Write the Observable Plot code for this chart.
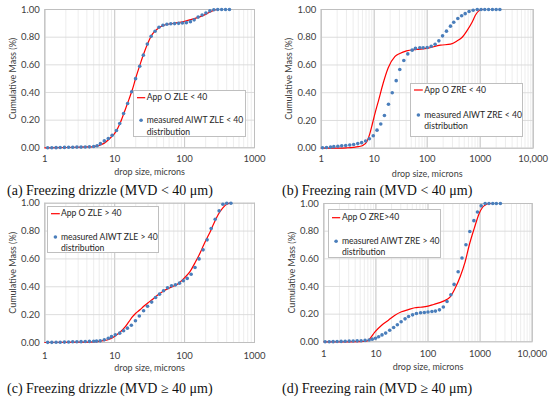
<!DOCTYPE html>
<html><head><meta charset="utf-8">
<script src="https://cdn.jsdelivr.net/npm/d3@7"></script>
<script src="https://cdn.jsdelivr.net/npm/@observablehq/plot@0.6"></script>
<style>
body{margin:0;background:#fff;}
#wrap{position:relative;width:550px;height:397px;overflow:hidden;background:#fff;}
.panel{position:absolute;}
.panel svg{display:block;}
.cap{position:absolute;white-space:nowrap;font-family:"Liberation Serif",serif;font-size:14px;color:#111;line-height:16px;}
.leg{position:absolute;background:#fff;border:1px solid #bfbfbf;box-sizing:border-box;font-family:Lato,sans-serif;font-size:8.6px;color:#262626;}
.leg .t{position:absolute;white-space:nowrap;line-height:12px;}
.leg svg{position:absolute;left:0;top:0;overflow:visible;}
</style></head>
<body><div id="wrap"></div>
<script>
// ---------- data ----------
const yTicks = [0, 0.2, 0.4, 0.6, 0.8, 1.0];
const xTicks1000 = [1, 10, 100, 1000];
const xLabels1000 = ["1", "10", "100", "1000"];
const xTicks10000 = [1, 10, 100, 1000, 10000];
const xLabels10000 = ["1", "10", "100", "1000", "10,000"];

// (a) Freezing drizzle MVD < 40
const measA_size = [1.1,1.26,1.45,1.66,1.91,2.19,2.51,2.88,3.3,3.79,4.35,5.0,5.6,6.25,7.1,8.1,9.2,10.6,11.8,13.4,15.3,17.5,19.9,22.8,25.7,29.3,33.2,37.8,43,49,55.8,63.5,72,82,93,106,121,137,156,178,202,230,262,298,339,385,438];
const measA_mass = [0,0,0.001,0.002,0.003,0.004,0.004,0.005,0.005,0.006,0.007,0.009,0.015,0.03,0.05,0.067,0.09,0.125,0.176,0.248,0.32,0.405,0.5,0.59,0.67,0.75,0.807,0.843,0.872,0.886,0.893,0.897,0.898,0.9,0.902,0.905,0.912,0.925,0.945,0.96,0.975,0.99,0.998,1,1,1,1];
const lineA_size = [1,2,3,4,5,6,7,8,9,10,12,14,16,18,20,23,26,30,35,40,45,50,60,80,100,130,160,200,250,290];
const lineA_mass = [0,0.002,0.004,0.006,0.009,0.017,0.032,0.055,0.08,0.105,0.18,0.27,0.35,0.425,0.505,0.6,0.68,0.76,0.825,0.855,0.875,0.885,0.895,0.905,0.915,0.93,0.945,0.965,0.99,1];

// (b) Freezing rain MVD < 40
const measB_size = [1.06,1.26,1.5,1.73,2.06,2.44,2.9,3.46,4.1,4.9,5.8,6.9,8.1,9.6,11.3,13.3,15.6,18.6,21.9,26,30.4,36.2,43,52,60,72.5,84,100,119,141,166,195,231,275,317,378,447,521,617,737,880,1040,1220,1440,1700,2000,2350];
const measB_mass = [0.003,0.005,0.008,0.011,0.014,0.017,0.02,0.023,0.027,0.033,0.04,0.052,0.068,0.09,0.13,0.175,0.236,0.317,0.40,0.487,0.567,0.632,0.68,0.707,0.72,0.724,0.724,0.726,0.735,0.75,0.774,0.81,0.844,0.88,0.908,0.935,0.955,0.97,0.986,0.995,1,1,1,1,1,1,1];
const lineB_size = [1,2,3,4,5,6.2,7.2,8.2,9.3,10.5,12,14.8,18.4,24.5,30.4,40.7,63,100,178,275,368,457,569,707,816,940,1090,1170];
const lineB_mass = [0,0.001,0.003,0.006,0.011,0.022,0.045,0.1,0.18,0.26,0.34,0.47,0.58,0.66,0.683,0.702,0.712,0.72,0.743,0.75,0.774,0.80,0.85,0.91,0.96,0.99,1,1];

// (c) Freezing drizzle MVD >= 40
const measC_size = [1.1,1.26,1.45,1.66,1.91,2.19,2.51,2.88,3.3,3.79,4.35,5.0,5.5,6.2,7.1,8.1,9.0,10.2,11.8,13.4,15.2,17.3,19.8,22.5,25.9,29.5,33.8,38.5,43.8,50,57,65,74,84.5,96,109,124,141,161,184,210,240,274,312,353,401,460];
const measC_mass = [0.001,0.001,0.002,0.002,0.003,0.004,0.005,0.005,0.006,0.007,0.008,0.009,0.01,0.012,0.02,0.03,0.042,0.055,0.067,0.084,0.103,0.124,0.156,0.19,0.228,0.26,0.29,0.323,0.347,0.371,0.393,0.407,0.414,0.426,0.443,0.46,0.49,0.538,0.6,0.665,0.737,0.818,0.885,0.945,0.993,1,1];
const lineC_size = [1,3,5,6,7,8,9,10,12,14,16,18,20,23,26,30,35,40,50,60,70,80,100,120,140,160,180,200,230,260,300,350,400,450];
const lineC_mass = [0,0.002,0.005,0.008,0.013,0.02,0.03,0.045,0.075,0.11,0.15,0.185,0.21,0.235,0.26,0.285,0.31,0.335,0.37,0.39,0.405,0.42,0.465,0.51,0.57,0.625,0.68,0.73,0.79,0.85,0.915,0.965,0.993,1];

// (d) Freezing rain MVD >= 40
const measD_size = [1.06,1.27,1.51,1.8,2.15,2.57,3.07,3.66,4.37,5.2,6.2,7.4,8.5,9.8,11.3,13.1,15.4,18.4,21.9,25.8,30.5,36.3,42.4,50.6,60,72,85,100,119,139,166,197,232,275,317,379,449,535,635,760,890,1050,1250,1480,1750,2050,2450];
const measD_mass = [0,0,0.001,0.002,0.003,0.004,0.005,0.006,0.007,0.008,0.01,0.013,0.019,0.026,0.036,0.05,0.063,0.084,0.103,0.123,0.145,0.166,0.183,0.195,0.205,0.21,0.212,0.215,0.219,0.222,0.231,0.252,0.291,0.34,0.415,0.507,0.606,0.702,0.797,0.876,0.938,0.983,1,1,1,1,1];
const lineD_size = [1,3,5,6.5,7.2,9.6,12.9,17.4,23.2,31,42,56,71,100,128,198,267,330,414,516,620,772,960,1190,1560,1650];
const lineD_mass = [0,0,0.001,0.004,0.012,0.072,0.12,0.156,0.192,0.217,0.233,0.246,0.25,0.258,0.27,0.294,0.325,0.385,0.47,0.578,0.70,0.82,0.928,0.983,1,1];

const captions = ["(a) Freezing drizzle (MVD < 40 μm)", "(b) Freezing rain (MVD < 40 μm)", "(c) Freezing drizzle (MVD ≥ 40 μm)", "(d) Freezing rain (MVD ≥ 40 μm)"];
const legendLine = ["App O ZLE < 40", "App O ZRE < 40", "App O ZLE > 40", "App O ZRE>40"];
const legendDots = ["measured AIWT ZLE < 40", "measured AIWT ZRE < 40", "measured AIWT ZLE > 40", "measured AIWT ZRE > 40"];

// ---------- drawing ----------
const RED = "#ff0000", BLUE = "#4a7ebb", TXT = "#404040";
const wrap = document.getElementById("wrap");
const esc = (s) => s.replace(/</g, "&lt;").replace(/>/g, "&gt;");

const panels = [
  {left:0, top:0, ms:measA_size, mm:measA_mass, ls:lineA_size, lm:lineA_mass, xt:xTicks1000, xl:xLabels1000,
   mL:44.3, mR:21, mT:9, mB:32.7, H:180, tp:7.5, lab:24.7, capTop:183,
   leg:{l:133, t:90, w:113, h:47, r1:6.7, r2:29.3, r3:41.7, tx:12.7}},
  {left:275, top:0, ms:measB_size, mm:measB_mass, ls:lineB_size, lm:lineB_mass, xt:xTicks10000, xl:xLabels10000,
   mL:45.7, mR:17.3, mT:9, mB:32.3, H:180, tp:7, lab:25.6, capTop:183,
   leg:{l:135, t:83.3, w:113, h:53.4, r1:6, r2:31, r3:42.7, tx:13.3}},
  {left:0, top:197, ms:measC_size, mm:measC_mass, ls:lineC_size, lm:lineC_mass, xt:xTicks1000, xl:xLabels1000,
   mL:44.3, mR:21, mT:5.7, mB:35, H:180, tp:9.5, lab:25.7, capTop:183.7,
   leg:{l:46.7, t:9, w:112.6, h:46.7, r1:6.7, r2:30, r3:41.7, tx:13.3}},
  {left:275, top:197, ms:measD_size, mm:measD_mass, ls:lineD_size, lm:lineD_mass, xt:xTicks10000, xl:xLabels10000,
   mL:48.3, mR:18.3, mT:6, mB:35.7, H:180, tp:8.5, lab:25, capTop:183.7,
   leg:{l:53.3, t:12.3, w:112.4, h:48.7, r1:7.7, r2:31.3, r3:42, tx:12.7}}
];

panels.forEach((p, i) => {
  const xmax = p.xt[p.xt.length - 1];
  const minor = d3.scaleLog().domain([1, xmax]).ticks();
  const lineData = p.ls.map((s, k) => ({s, m: p.lm[k]}));
  const dotData = p.ms.map((s, k) => ({s, m: p.mm[k]}));
  const chart = Plot.plot({
    width: 275, height: p.H,
    marginLeft: p.mL, marginRight: p.mR, marginTop: p.mT, marginBottom: p.mB,
    style: {fontFamily: "Lato, sans-serif", fontSize: "9.5px", color: TXT, background: "transparent", overflow: "visible"},
    x: {type: "log", domain: [1, xmax]},
    y: {domain: [0, 1]},
    marks: [
      Plot.ruleX(minor, {stroke: "#e8e8e8", strokeWidth: 0.8}),
      Plot.ruleX(p.xt, {stroke: "#c4c4c4", strokeWidth: 0.9}),
      Plot.ruleY(yTicks, {stroke: "#d9d9d9", strokeWidth: 0.9}),
      Plot.frame({stroke: "#bfbfbf"}),
      Plot.axisX({ticks: p.xt, tickSize: 0, tickPadding: p.tp, tickFormat: (d) => p.xl[p.xt.indexOf(d)], label: null}),
      Plot.axisY({ticks: yTicks, tickSize: 0, tickPadding: 5, tickFormat: d3.format(".2f"), label: null}),
      Plot.line(lineData, {x: "s", y: "m", stroke: RED, strokeWidth: 1.2, curve: "monotone-x"}),
      Plot.dot(dotData, {x: "s", y: "m", r: 1.8, fill: BLUE, stroke: null}),
      Plot.text(["drop size, microns"], {frameAnchor: "bottom", lineAnchor: "middle", textAnchor: "middle", dy: p.lab, fill: TXT, fontSize: 9}),
      Plot.text(["Cumulative Mass (%)"], {frameAnchor: "left", textAnchor: "middle", lineAnchor: "middle", rotate: -90, dx: -32, fill: TXT, fontSize: 9})
    ]
  });
  const div = document.createElement("div");
  div.className = "panel";
  div.style.left = p.left + "px"; div.style.top = p.top + "px";
  div.style.width = "275px"; div.style.height = "200px";
  div.appendChild(chart);

  // legend overlay inside plot area
  const L = p.leg;
  const lg = document.createElement("div");
  lg.className = "leg";
  Object.assign(lg.style, {left: L.l + "px", top: L.t + "px", width: L.w + "px", height: L.h + "px"});
  lg.innerHTML =
    `<svg width="${L.w}" height="${L.h}"><line x1="3" x2="${L.tx - 1.5}" y1="${L.r1}" y2="${L.r1}" stroke="${RED}" stroke-width="1.2"/>` +
    `<circle cx="${(L.tx + 1.5) / 2}" cy="${L.r2}" r="1.8" fill="${BLUE}"/></svg>` +
    `<div class="t" style="left:${L.tx}px;top:${L.r1 - 6.5}px">${esc(legendLine[i])}</div>` +
    `<div class="t" style="left:${L.tx}px;top:${L.r2 - 6.5}px">${esc(legendDots[i])}</div>` +
    `<div class="t" style="left:${L.tx}px;top:${L.r3 - 6.5}px">distribution</div>`;
  div.appendChild(lg);

  const cap = document.createElement("div");
  cap.className = "cap";
  cap.textContent = captions[i];
  cap.style.left = "7px"; cap.style.top = p.capTop + "px";
  div.appendChild(cap);
  wrap.appendChild(div);
});
</script></body></html>
